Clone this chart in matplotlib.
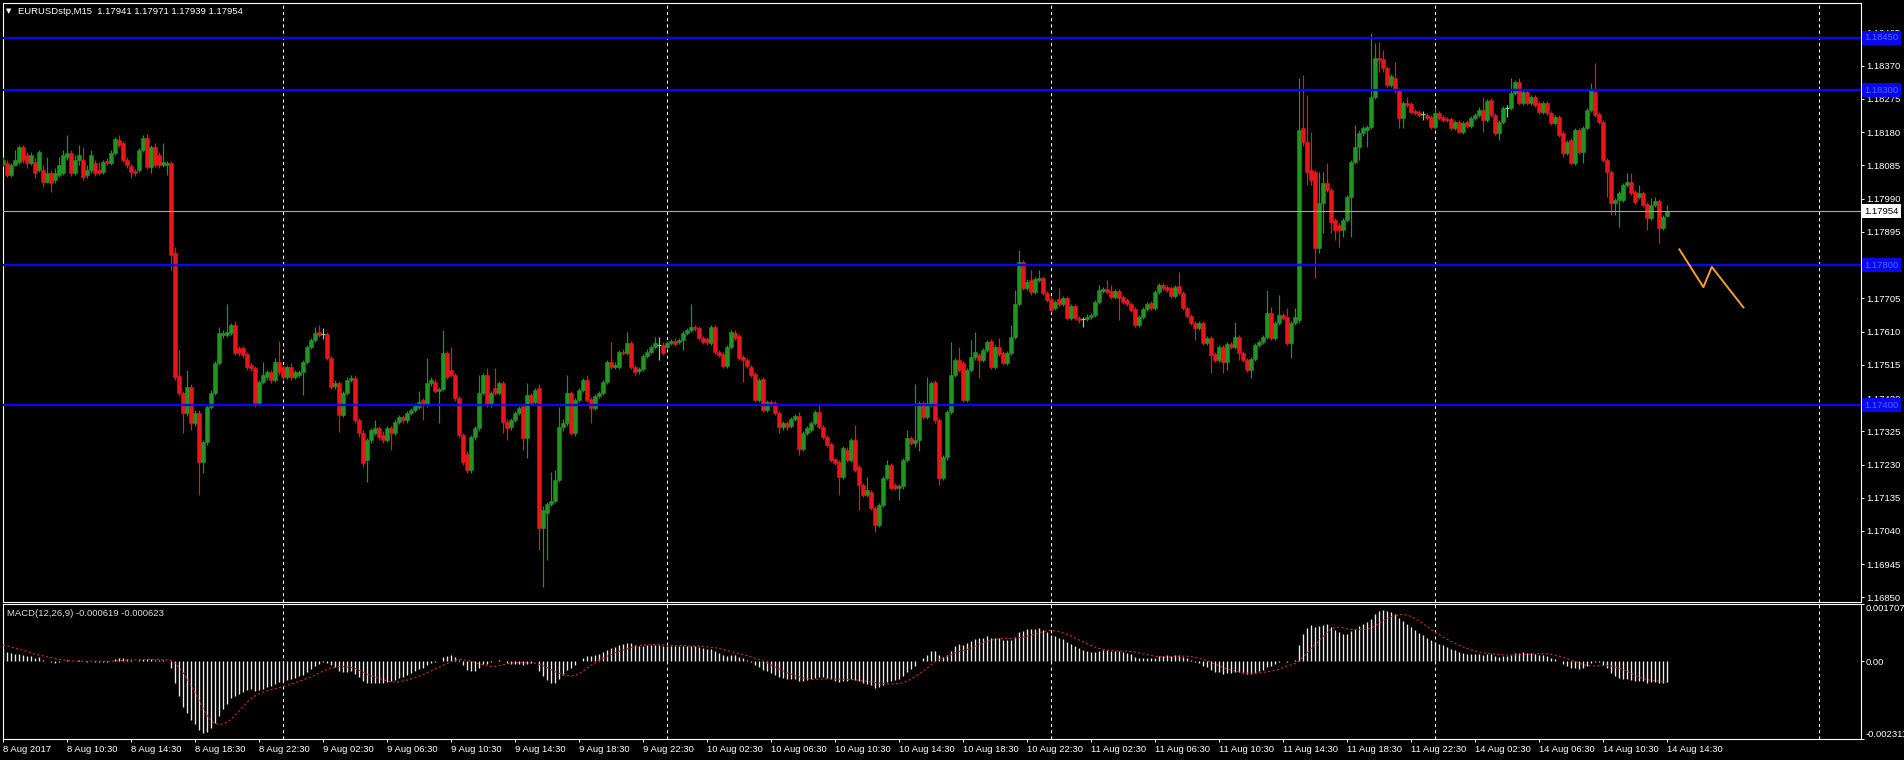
import matplotlib
matplotlib.use("Agg")
import matplotlib.pyplot as plt
import numpy as np
import pandas as pd

plt.rcParams['font.family'] = ['Liberation Sans', 'DejaVu Sans']

W, H = 1904, 760
FS = 6.8

# EURUSD M15, 8 Aug 2017 06:30 .. 14 Aug 2017 14:30, prices in points above 1.16000
BASE = 1.16
POINT = 1e-5

OPEN = [
    2089, 2092, 2058, 2086, 2095, 2138, 2115, 2092, 2095, 2072, 2072, 2038, 2063, 2043, 2058, 2063, 2109, 2120, 2063, 2101,
    2101, 2058, 2072, 2092, 2072, 2066, 2098, 2092, 2120, 2158, 2149, 2101, 2083, 2069, 2072, 2129, 2164, 2081, 2138, 2115,
    2086, 2086, 2092, 1835, 1483, 1434, 1377, 1452, 1349, 1377, 1237, 1294, 1394, 1434, 1520, 1600, 1600, 1606, 1629, 1563,
    1563, 1546, 1515, 1506, 1406, 1466, 1480, 1494, 1472, 1523, 1509, 1480, 1509, 1480, 1486, 1494, 1523, 1566, 1586, 1609,
    1603, 1603, 1535, 1455, 1463, 1372, 1434, 1472, 1478, 1357, 1320, 1243, 1300, 1320, 1334, 1315, 1300, 1334, 1320, 1352,
    1366, 1357, 1377, 1386, 1394, 1414, 1400, 1463, 1466, 1440, 1446, 1549, 1500, 1486, 1420, 1315, 1260, 1214, 1309, 1334,
    1434, 1486, 1400, 1449, 1434, 1463, 1352, 1337, 1357, 1377, 1397, 1306, 1429, 1409, 1449, 1048, 1092, 1117, 1126, 1186,
    1337, 1349, 1434, 1320, 1414, 1443, 1472, 1417, 1392, 1426, 1434, 1466, 1523, 1509, 1509, 1552, 1549, 1577, 1509, 1497,
    1503, 1540, 1552, 1566, 1572, 1572, 1566, 1577, 1583, 1580, 1586, 1606, 1614, 1623, 1620, 1592, 1589, 1577, 1623, 1552,
    1546, 1512, 1566, 1606, 1597, 1537, 1529, 1509, 1489, 1414, 1475, 1386, 1409, 1406, 1377, 1337, 1349, 1340, 1360, 1369,
    1275, 1320, 1329, 1349, 1380, 1337, 1309, 1289, 1245, 1237, 1194, 1271, 1243, 1300, 1223, 1171, 1143, 1151, 1106, 1057,
    1114, 1191, 1228, 1171, 1163, 1168, 1243, 1306, 1292, 1300, 1406, 1366, 1400, 1466, 1357, 1191, 1251, 1380, 1486, 1529,
    1520, 1414, 1500, 1537, 1543, 1529, 1557, 1583, 1509, 1566, 1549, 1520, 1549, 1595, 1689, 1809, 1735, 1757, 1723, 1757,
    1763, 1720, 1703, 1678, 1703, 1689, 1706, 1649, 1683, 1649, 1646, 1646, 1652, 1658, 1695, 1726, 1732, 1726, 1709, 1726,
    1709, 1700, 1689, 1675, 1629, 1652, 1675, 1692, 1678, 1723, 1743, 1738, 1735, 1712, 1740, 1720, 1678, 1655, 1635, 1620,
    1635, 1577, 1592, 1546, 1529, 1566, 1523, 1575, 1566, 1595, 1549, 1529, 1500, 1532, 1572, 1580, 1595, 1663, 1592, 1635,
    1658, 1652, 1577, 1635, 1643, 2192, 2152, 2072, 2066, 1849, 1978, 2035, 2015, 1929, 1915, 1900, 1929, 1995, 2095, 2138,
    2178, 2186, 2195, 2281, 2392, 2389, 2363, 2315, 2335, 2300, 2220, 2263, 2261, 2240, 2238, 2232, 2229, 2223, 2195, 2235,
    2223, 2218, 2218, 2192, 2209, 2181, 2209, 2198, 2220, 2229, 2243, 2215, 2272, 2229, 2178, 2209, 2249, 2249, 2292, 2323,
    2263, 2295, 2263, 2281, 2263, 2238, 2263, 2235, 2206, 2223, 2178, 2120, 2158, 2092, 2186, 2123, 2192, 2243, 2295, 2232,
    2209, 2101, 2066, 1978, 1986, 1986, 2029, 2038, 2009, 1995, 2006, 1975, 1935, 1972, 1983, 1906, 1941,
]
HIGH = [
    2109, 2101, 2092, 2129, 2143, 2143, 2123, 2123, 2106, 2129, 2086, 2109, 2072, 2078, 2109, 2129, 2172, 2129, 2115, 2143,
    2138, 2086, 2129, 2101, 2095, 2101, 2105, 2129, 2166, 2172, 2155, 2109, 2089, 2075, 2135, 2172, 2175, 2143, 2149, 2123,
    2149, 2098, 2098, 1852, 1557, 1440, 1500, 1460, 1386, 1386, 1300, 1400, 1443, 1526, 1623, 1615, 1689, 1635, 1640, 1570,
    1570, 1552, 1520, 1512, 1472, 1523, 1500, 1500, 1534, 1583, 1515, 1515, 1520, 1500, 1500, 1529, 1572, 1592, 1623, 1629,
    1620, 1610, 1540, 1472, 1470, 1440, 1480, 1486, 1486, 1363, 1328, 1306, 1335, 1357, 1340, 1325, 1340, 1340, 1357, 1372,
    1372, 1383, 1392, 1406, 1440, 1420, 1535, 1480, 1475, 1452, 1614, 1555, 1566, 1492, 1426, 1320, 1270, 1315, 1340, 1486,
    1492, 1506, 1440, 1506, 1470, 1470, 1360, 1363, 1383, 1398, 1403, 1463, 1435, 1449, 1460, 1110, 1123, 1208, 1214, 1394,
    1360, 1486, 1440, 1420, 1449, 1478, 1486, 1423, 1432, 1440, 1472, 1529, 1580, 1523, 1558, 1560, 1609, 1583, 1515, 1509,
    1546, 1560, 1572, 1595, 1595, 1580, 1583, 1589, 1592, 1592, 1612, 1620, 1689, 1629, 1626, 1597, 1595, 1629, 1629, 1558,
    1552, 1572, 1615, 1614, 1603, 1543, 1535, 1515, 1495, 1478, 1480, 1415, 1415, 1412, 1383, 1355, 1355, 1366, 1375, 1380,
    1326, 1340, 1355, 1386, 1400, 1343, 1315, 1295, 1250, 1243, 1283, 1280, 1306, 1343, 1228, 1177, 1194, 1157, 1112, 1120,
    1197, 1243, 1234, 1177, 1175, 1250, 1329, 1312, 1460, 1412, 1412, 1480, 1470, 1472, 1363, 1257, 1386, 1580, 1535, 1566,
    1526, 1506, 1586, 1609, 1549, 1563, 1586, 1589, 1572, 1592, 1555, 1555, 1629, 1729, 1843, 1815, 1760, 1786, 1766, 1786,
    1769, 1726, 1709, 1700, 1735, 1712, 1712, 1689, 1689, 1655, 1652, 1660, 1663, 1700, 1743, 1738, 1757, 1743, 1732, 1732,
    1715, 1706, 1695, 1680, 1658, 1680, 1695, 1698, 1729, 1749, 1749, 1743, 1740, 1743, 1780, 1726, 1683, 1660, 1640, 1640,
    1640, 1597, 1597, 1552, 1572, 1572, 1580, 1580, 1637, 1600, 1555, 1535, 1537, 1577, 1586, 1600, 1729, 1680, 1640, 1715,
    1663, 1678, 1640, 1678, 2335, 2344, 2286, 2180, 2072, 2066, 2066, 2092, 2020, 1935, 1920, 1935, 2000, 2100, 2200, 2186,
    2198, 2200, 2464, 2435, 2438, 2415, 2369, 2346, 2381, 2306, 2269, 2281, 2266, 2246, 2243, 2240, 2235, 2229, 2252, 2240,
    2229, 2223, 2223, 2215, 2215, 2212, 2215, 2226, 2235, 2252, 2281, 2275, 2278, 2235, 2215, 2255, 2258, 2335, 2329, 2335,
    2300, 2300, 2286, 2286, 2269, 2269, 2269, 2240, 2229, 2229, 2183, 2158, 2163, 2192, 2192, 2198, 2249, 2320, 2378, 2238,
    2215, 2106, 2072, 1992, 2012, 2035, 2063, 2063, 2015, 2029, 2012, 1980, 1992, 1995, 1989, 1943, 1971,
]
LOW = [
    2083, 2052, 2052, 2083, 2090, 2092, 2078, 2086, 2049, 2066, 2023, 2035, 2009, 2035, 2052, 2058, 2101, 2055, 2058, 2086,
    2043, 2049, 2063, 2055, 2058, 2060, 2086, 2086, 2115, 2138, 2095, 2078, 2049, 2055, 2066, 2123, 2075, 2063, 2081, 2078,
    2081, 2058, 1786, 1472, 1425, 1320, 1370, 1329, 1340, 1143, 1206, 1285, 1390, 1428, 1515, 1592, 1595, 1600, 1543, 1540,
    1535, 1500, 1497, 1395, 1398, 1460, 1472, 1463, 1466, 1486, 1472, 1475, 1472, 1475, 1480, 1429, 1517, 1560, 1580, 1595,
    1590, 1529, 1446, 1446, 1323, 1365, 1428, 1466, 1350, 1310, 1223, 1180, 1292, 1315, 1300, 1292, 1295, 1271, 1315, 1346,
    1350, 1350, 1372, 1380, 1388, 1357, 1395, 1455, 1434, 1349, 1440, 1475, 1480, 1412, 1306, 1228, 1206, 1206, 1300, 1326,
    1428, 1395, 1395, 1428, 1428, 1320, 1300, 1329, 1352, 1372, 1271, 1248, 1400, 1403, 985, 880, 957, 1110, 1120, 1180,
    1326, 1340, 1315, 1312, 1409, 1437, 1409, 1349, 1386, 1420, 1429, 1460, 1503, 1503, 1503, 1543, 1543, 1503, 1486, 1490,
    1497, 1535, 1546, 1560, 1529, 1543, 1560, 1572, 1569, 1575, 1557, 1600, 1609, 1612, 1586, 1575, 1572, 1572, 1546, 1537,
    1506, 1506, 1560, 1586, 1529, 1466, 1506, 1480, 1409, 1409, 1380, 1380, 1394, 1372, 1320, 1330, 1330, 1334, 1355, 1258,
    1268, 1315, 1323, 1343, 1332, 1303, 1280, 1237, 1228, 1143, 1188, 1237, 1237, 1208, 1100, 1137, 1137, 1100, 1037, 1050,
    1108, 1185, 1157, 1157, 1128, 1160, 1237, 1286, 1280, 1270, 1360, 1360, 1395, 1350, 1171, 1185, 1243, 1375, 1480, 1494,
    1409, 1409, 1494, 1530, 1477, 1523, 1552, 1503, 1503, 1540, 1515, 1515, 1543, 1589, 1683, 1729, 1729, 1715, 1718, 1752,
    1715, 1695, 1666, 1672, 1683, 1683, 1643, 1643, 1643, 1635, 1623, 1640, 1646, 1652, 1689, 1720, 1718, 1703, 1703, 1643,
    1689, 1683, 1666, 1623, 1623, 1646, 1669, 1672, 1672, 1718, 1729, 1723, 1706, 1706, 1715, 1672, 1649, 1629, 1586, 1615,
    1572, 1572, 1492, 1523, 1523, 1492, 1500, 1560, 1560, 1529, 1523, 1494, 1477, 1526, 1566, 1575, 1589, 1586, 1586, 1629,
    1643, 1572, 1535, 1629, 1635, 2140, 2029, 2029, 1763, 1835, 1892, 2009, 1892, 1872, 1852, 1880, 1923, 1880, 2090, 2101,
    2170, 2138, 2189, 2275, 2352, 2352, 2309, 2309, 2292, 2192, 2192, 2252, 2232, 2229, 2223, 2215, 2215, 2189, 2189, 2215,
    2209, 2209, 2186, 2186, 2178, 2175, 2192, 2192, 2215, 2223, 2181, 2209, 2223, 2172, 2158, 2203, 2223, 2243, 2286, 2258,
    2258, 2258, 2258, 2252, 2232, 2232, 2229, 2200, 2200, 2166, 2109, 2115, 2086, 2086, 2118, 2092, 2186, 2238, 2223, 2203,
    2095, 1995, 1943, 1943, 1909, 1980, 2023, 2000, 1975, 1989, 1966, 1900, 1929, 1966, 1863, 1900, 1939,
]
CLOSE = [
    2101, 2058, 2086, 2101, 2138, 2101, 2092, 2115, 2063, 2123, 2038, 2063, 2035, 2063, 2086, 2115, 2120, 2063, 2101, 2115,
    2052, 2072, 2115, 2063, 2063, 2095, 2092, 2120, 2161, 2143, 2101, 2086, 2066, 2063, 2129, 2164, 2081, 2138, 2086, 2086,
    2095, 2092, 1829, 1480, 1434, 1377, 1452, 1349, 1377, 1237, 1294, 1394, 1434, 1520, 1606, 1606, 1609, 1629, 1549, 1549,
    1543, 1509, 1506, 1406, 1466, 1486, 1494, 1472, 1523, 1494, 1480, 1509, 1480, 1494, 1494, 1523, 1566, 1586, 1606, 1600,
    1603, 1535, 1452, 1463, 1372, 1434, 1472, 1478, 1357, 1320, 1234, 1300, 1329, 1334, 1309, 1300, 1334, 1320, 1352, 1366,
    1357, 1377, 1386, 1400, 1409, 1400, 1463, 1472, 1440, 1446, 1549, 1480, 1486, 1420, 1315, 1237, 1214, 1309, 1334, 1434,
    1486, 1400, 1434, 1434, 1463, 1352, 1334, 1357, 1377, 1392, 1306, 1429, 1406, 1443, 1048, 1100, 1117, 1126, 1186, 1337,
    1349, 1434, 1320, 1414, 1443, 1472, 1414, 1392, 1426, 1434, 1466, 1523, 1509, 1515, 1552, 1549, 1577, 1509, 1494, 1503,
    1540, 1552, 1566, 1577, 1572, 1549, 1577, 1583, 1575, 1586, 1606, 1614, 1623, 1620, 1592, 1580, 1580, 1623, 1552, 1543,
    1512, 1566, 1609, 1592, 1535, 1529, 1512, 1486, 1414, 1472, 1386, 1409, 1400, 1377, 1337, 1349, 1337, 1360, 1369, 1275,
    1320, 1334, 1349, 1380, 1337, 1309, 1286, 1243, 1234, 1194, 1277, 1243, 1300, 1214, 1171, 1143, 1157, 1106, 1057, 1114,
    1191, 1228, 1163, 1163, 1168, 1243, 1306, 1292, 1300, 1406, 1366, 1406, 1463, 1357, 1191, 1251, 1380, 1486, 1529, 1500,
    1414, 1500, 1537, 1552, 1529, 1557, 1580, 1509, 1566, 1546, 1520, 1549, 1595, 1689, 1809, 1735, 1752, 1723, 1760, 1763,
    1720, 1700, 1672, 1695, 1689, 1706, 1649, 1683, 1649, 1643, 1646, 1652, 1658, 1695, 1729, 1732, 1723, 1709, 1726, 1706,
    1695, 1689, 1672, 1629, 1652, 1675, 1689, 1678, 1723, 1743, 1735, 1729, 1712, 1738, 1720, 1678, 1655, 1635, 1620, 1635,
    1577, 1592, 1543, 1529, 1566, 1523, 1575, 1566, 1595, 1549, 1529, 1500, 1532, 1572, 1580, 1595, 1663, 1592, 1635, 1658,
    1649, 1577, 1635, 1652, 2186, 2152, 2066, 2043, 1849, 1978, 2035, 2015, 1923, 1900, 1900, 1929, 1995, 2095, 2138, 2178,
    2192, 2195, 2281, 2392, 2386, 2363, 2315, 2340, 2300, 2220, 2263, 2258, 2238, 2235, 2229, 2232, 2220, 2195, 2235, 2220,
    2215, 2215, 2192, 2209, 2181, 2206, 2198, 2220, 2229, 2243, 2215, 2269, 2229, 2178, 2209, 2249, 2249, 2292, 2323, 2263,
    2295, 2263, 2281, 2258, 2238, 2263, 2235, 2206, 2223, 2172, 2120, 2152, 2092, 2186, 2123, 2192, 2243, 2300, 2229, 2209,
    2101, 2066, 1978, 1986, 2006, 2029, 2038, 2006, 1981, 2006, 1972, 1935, 1972, 1983, 1906, 1938, 1954,
]

TIME_LABELS = [
    "8 Aug 2017", "8 Aug 10:30", "8 Aug 14:30", "8 Aug 18:30", "8 Aug 22:30",
    "9 Aug 02:30", "9 Aug 06:30", "9 Aug 10:30", "9 Aug 14:30", "9 Aug 18:30", "9 Aug 22:30",
    "10 Aug 02:30", "10 Aug 06:30", "10 Aug 10:30", "10 Aug 14:30", "10 Aug 18:30", "10 Aug 22:30",
    "11 Aug 02:30", "11 Aug 06:30", "11 Aug 10:30", "11 Aug 14:30", "11 Aug 18:30", "11 Aug 22:30",
    "14 Aug 02:30", "14 Aug 06:30", "14 Aug 10:30", "14 Aug 14:30",
]
BARS_PER_LABEL = 16
DAY_SEPARATORS = [70, 166, 262, 358, 454]
RIGHT_SHIFT_BARS = 464.5

PRICE_TICKS = [1.16850, 1.16945, 1.17040, 1.17135, 1.17230, 1.17325, 1.17420, 1.17515, 1.17610,
               1.17705, 1.17800, 1.17895, 1.17990, 1.18085, 1.18180, 1.18275, 1.18370, 1.18465]
PRICE_RANGE = (1.168369, 1.185494)
LEVELS = [1.18450, 1.18300, 1.17800, 1.17400]
BID = 1.17954

ZIGZAG_BARS = [419.1, 425.1, 427.2, 435.1]
ZIGZAG_PRICES = [1.17845, 1.17737, 1.17795, 1.17679]

MACD_FAST, MACD_SLOW, MACD_SIGNAL = 12, 26, 9
MACD_SEED_FAST = 0.00030
MACD_SEED_SLOW = -0.00012
SIGNAL_SEED = 0.00050
MACD_RANGE = (-0.002311, 0.001707)

HEADER = "EURUSDstp,M15  1.17941 1.17971 1.17939 1.17954"
MACD_TITLE = "MACD(12,26,9) -0.000619 -0.000623"

BULL = '#1f961f'
BEAR = '#ea1419'
DOJI = '#7de07d'
LEVEL_BLUE = '#0808f0'


def px_rect(left, top, right, bottom):
    return [left / W, 1 - bottom / H, (right - left) / W, (bottom - top) / H]


def seeded_ema(values, span, start):
    k = 2.0 / (span + 1)
    out = np.empty(len(values))
    prev = start
    for i, v in enumerate(values):
        prev = prev + k * (v - prev)
        out[i] = prev
    return out


def style_frame(ax):
    ax.set_facecolor('black')
    for sp in ax.spines.values():
        sp.set_color('white')
        sp.set_linewidth(0.8)


o = BASE + np.array(OPEN) * POINT
h = BASE + np.array(HIGH) * POINT
l = BASE + np.array(LOW) * POINT
c = BASE + np.array(CLOSE) * POINT
idx = np.arange(len(c))

fast = seeded_ema(c, MACD_FAST, c[0] + MACD_SEED_FAST)
slow = seeded_ema(c, MACD_SLOW, c[0] + MACD_SEED_SLOW)
macd = fast - slow
signal = pd.Series(np.r_[[SIGNAL_SEED] * (MACD_SIGNAL - 1), macd]).rolling(MACD_SIGNAL).mean().to_numpy()[MACD_SIGNAL - 1:]

fig = plt.figure(figsize=(W / 100, H / 100), dpi=100, facecolor='black')
main = fig.add_axes(px_rect(2.5, 3, 1861, 602))
lower = fig.add_axes(px_rect(2.5, 604, 1861, 739))
for ax in (main, lower):
    style_frame(ax)
    ax.set_xlim(-0.125, RIGHT_SHIFT_BARS)
    for d in DAY_SEPARATORS:
        ax.axvline(d, color='white', lw=0.75, ls=(0, (3, 3)), zorder=1)

# candles
cols = np.where(c > o, BULL, np.where(c < o, BEAR, DOJI))
main.vlines(idx, l, h, colors=cols, lw=0.85, zorder=3)
body = c != o
main.bar(idx[body], np.abs(c - o)[body], bottom=np.minimum(o, c)[body], width=0.78,
         color=cols[body], edgecolor=cols[body], linewidth=0.4, zorder=4)
doji = ~body
main.hlines(c[doji], idx[doji] - 0.4, idx[doji] + 0.4, colors=DOJI, lw=0.8, zorder=4)

for lvl in LEVELS:
    main.axhline(lvl, color=LEVEL_BLUE, lw=1.7, zorder=5)
main.axhline(BID, color='#a8a8a8', lw=0.8, zorder=5)
main.plot(ZIGZAG_BARS, ZIGZAG_PRICES, color='#f5a030', lw=1.4, zorder=6, clip_on=False)

main.set_ylim(*PRICE_RANGE)
main.set_xticks([])
main.yaxis.tick_right()
main.set_yticks(PRICE_TICKS)
main.set_yticklabels([f"{p:.5f}" for p in PRICE_TICKS])
main.tick_params(axis='y', colors='white', length=2.2, width=0.7, pad=1.5, labelsize=FS)

label_x = (1864.5 - 2.5) / (1861 - 2.5)
for lvl in LEVELS:
    main.text(label_x, lvl, f"{lvl:.5f}", transform=main.get_yaxis_transform(), ha='left', va='center',
              fontsize=FS, color='#4a66ff', clip_on=False, zorder=8,
              bbox=dict(boxstyle='square,pad=0.25', fc=LEVEL_BLUE, ec='none'))
main.text(label_x, BID, f"{BID:.5f}", transform=main.get_yaxis_transform(), ha='left', va='center',
          fontsize=FS, color='black', clip_on=False, zorder=8,
          bbox=dict(boxstyle='square,pad=0.25', fc='white', ec='none'))

# MACD panel
lower.vlines(idx, 0, macd, colors='#eeeeee', lw=0.95, zorder=3)
lower.plot(idx, signal, color='#d02a2a', lw=0.8, ls=(0, (2, 2)), zorder=4)
lower.set_ylim(*MACD_RANGE)
lower.yaxis.tick_right()
lower.set_yticks([MACD_RANGE[1], 0, MACD_RANGE[0]])
lower.set_yticklabels([f"{MACD_RANGE[1]:.6f}", "0.00", f"{MACD_RANGE[0]:.6f}"])
lower.tick_params(axis='y', colors='white', length=2.2, width=0.7, pad=1.0, labelsize=FS)
yl = lower.get_yticklabels()
yl[0].set_va('top')
yl[2].set_va('bottom')

lower.set_xticks(np.arange(len(TIME_LABELS)) * BARS_PER_LABEL)
lower.set_xticklabels(TIME_LABELS, ha='left')
lower.tick_params(axis='x', colors='white', length=2.5, width=0.7, pad=1.5, labelsize=FS)

fig.text(9 / W, 1 - 11 / H, "\u25bc", color='white', fontsize=5, ha='center', va='center',
         family=['DejaVu Sans'])
fig.text(18 / W, 1 - 11 / H, HEADER, color='white', fontsize=FS, ha='left', va='center')
fig.text(7 / W, 1 - 613 / H, MACD_TITLE, color='#dddddd', fontsize=FS, ha='left', va='center')

fig.savefig('out.png', dpi=100, facecolor='black')
